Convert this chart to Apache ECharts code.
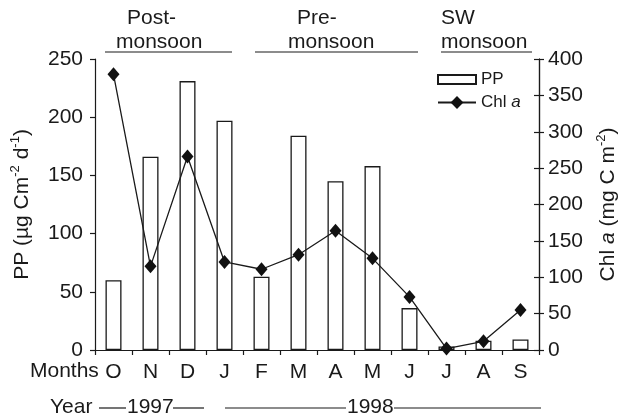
<!DOCTYPE html>
<html>
<head>
<meta charset="utf-8">
<script src="https://cdn.jsdelivr.net/npm/echarts@6/dist/echarts.min.js"></script>
<style>
    html, body { margin: 0; padding: 0; background: #fff; }
    #main { width: 623px; height: 418px; }
</style>
</head>
<body>
<div id="main"></div>
<script>
    // data
    var months = ['O', 'N', 'D', 'J', 'F', 'M', 'A', 'M', 'J', 'J', 'A', 'S'];
    var ppValues = [60, 166, 231, 197, 63, 184, 145, 158, 36, 3, 8, 9];
    var chlValues = [379, 115, 266, 121, 111, 131, 164, 126, 73, 2, 12, 55];
    var ppScale = [0, 250, 50];   // min, max, step
    var chlScale = [0, 400, 50];

    var font = 'Liberation Sans';
    var ink = '#1a1a1a';
    var myChart = echarts.init(document.getElementById('main'));

    var nameRich = {
        t: { fontSize: 21, fontFamily: font, color: ink, lineHeight: 26, verticalAlign: 'middle' },
        i: { fontSize: 21, fontFamily: font, color: ink, fontStyle: 'italic', lineHeight: 26, verticalAlign: 'middle' },
        s: { fontSize: 13, fontFamily: font, color: ink, lineHeight: 26, verticalAlign: 'top' }
    };

    function headerText(x, y, txt) {
        return { type: 'text', left: x, top: y, style: { text: txt, font: '21px "' + font + '"', fill: ink } };
    }
    function hline(x1, x2, y) {
        return { type: 'line', shape: { x1: x1, y1: y, x2: x2, y2: y }, style: { stroke: ink, lineWidth: 1.2 } };
    }

    var option = {
        animation: false,
        grid: { left: 95, right: 84, top: 59, bottom: 68, outerBoundsMode: 'none', containLabel: false },
        legend: [
            {
                data: [{ name: 'PP', icon: 'rect' }],
                left: 437, top: 71, padding: 0, itemWidth: 38, itemHeight: 9,
                textStyle: { fontSize: 17, fontFamily: font, color: ink }
            },
            {
                data: ['Chl a'],
                left: 437, top: 94, padding: 0, itemWidth: 38, itemHeight: 16,
                formatter: function () { return '{t|Chl }{i|a}'; },
                textStyle: {
                    fontSize: 17, fontFamily: font, color: ink,
                    rich: {
                        t: { fontSize: 17, fontFamily: font, color: ink },
                        i: { fontSize: 17, fontFamily: font, color: ink, fontStyle: 'italic' }
                    }
                }
            }
        ],
        xAxis: {
            type: 'category',
            data: months,
            axisLine: { lineStyle: { color: ink, width: 1.2 } },
            axisTick: { show: true, length: 5, interval: 0, lineStyle: { color: ink, width: 1.2 } },
            axisLabel: { fontSize: 21, fontFamily: font, color: ink, margin: 12, interval: 0 }
        },
        yAxis: [
            {
                type: 'value', position: 'left',
                min: ppScale[0], max: ppScale[1], interval: ppScale[2],
                splitLine: { show: false },
                axisLine: { show: true, lineStyle: { color: ink, width: 1.2 } },
                axisTick: { show: true, length: 5, lineStyle: { color: ink, width: 1.2 } },
                axisLabel: { fontSize: 21, fontFamily: font, color: ink, margin: 12 },
                name: '{t|PP (µg Cm}{s|-2}{t| d}{s|-1}{t|)}',
                nameLocation: 'middle', nameRotate: 90, nameGap: 60,
                nameTextStyle: { rich: nameRich }
            },
            {
                type: 'value', position: 'right',
                min: chlScale[0], max: chlScale[1], interval: chlScale[2],
                splitLine: { show: false },
                axisLine: { show: true, lineStyle: { color: ink, width: 1.2 } },
                axisTick: { show: true, length: 5, lineStyle: { color: ink, width: 1.2 } },
                axisLabel: { fontSize: 21, fontFamily: font, color: ink, margin: 9 },
                name: '{t|Chl }{i|a}{t| (mg C m}{s|-2}{t|)}',
                nameLocation: 'middle', nameRotate: 90, nameGap: 56,
                nameTextStyle: { rich: nameRich }
            },
            {
                // inward half of the crossing ticks on the right axis
                type: 'value', position: 'right',
                min: chlScale[0], max: chlScale[1], interval: chlScale[2],
                splitLine: { show: false },
                axisLine: { show: true, lineStyle: { color: ink, width: 1.2 } },
                axisTick: { show: true, inside: true, length: 5, lineStyle: { color: ink, width: 1.2 } },
                axisLabel: { show: false }
            }
        ],
        graphic: [
            headerText(127, 8, 'Post-'),
            headerText(116, 32, 'monsoon'),
            hline(105, 232, 52),
            headerText(297, 8, 'Pre-'),
            headerText(288, 32, 'monsoon'),
            hline(255, 418, 52),
            headerText(441, 8, 'SW'),
            headerText(441, 32, 'monsoon'),
            hline(441, 532, 52),
            headerText(30, 361, 'Months'),
            headerText(50, 397, 'Year'),
            hline(99, 126, 408),
            headerText(127, 397, '1997'),
            hline(173, 204, 408),
            hline(225, 346, 408),
            headerText(347, 397, '1998'),
            hline(394, 541, 408)
        ],
        series: [
            {
                name: 'PP',
                type: 'bar',
                yAxisIndex: 0,
                barWidth: 16,
                itemStyle: { color: '#fff', borderColor: ink, borderWidth: 1.3 },
                data: ppValues
            },
            {
                name: 'Chl a',
                type: 'line',
                yAxisIndex: 1,
                symbol: 'diamond',
                symbolSize: [12, 14],
                itemStyle: { color: '#111' },
                lineStyle: { color: ink, width: 1.3 },
                data: chlValues
            }
        ]
    };

    myChart.setOption(option);
</script>
</body>
</html>
